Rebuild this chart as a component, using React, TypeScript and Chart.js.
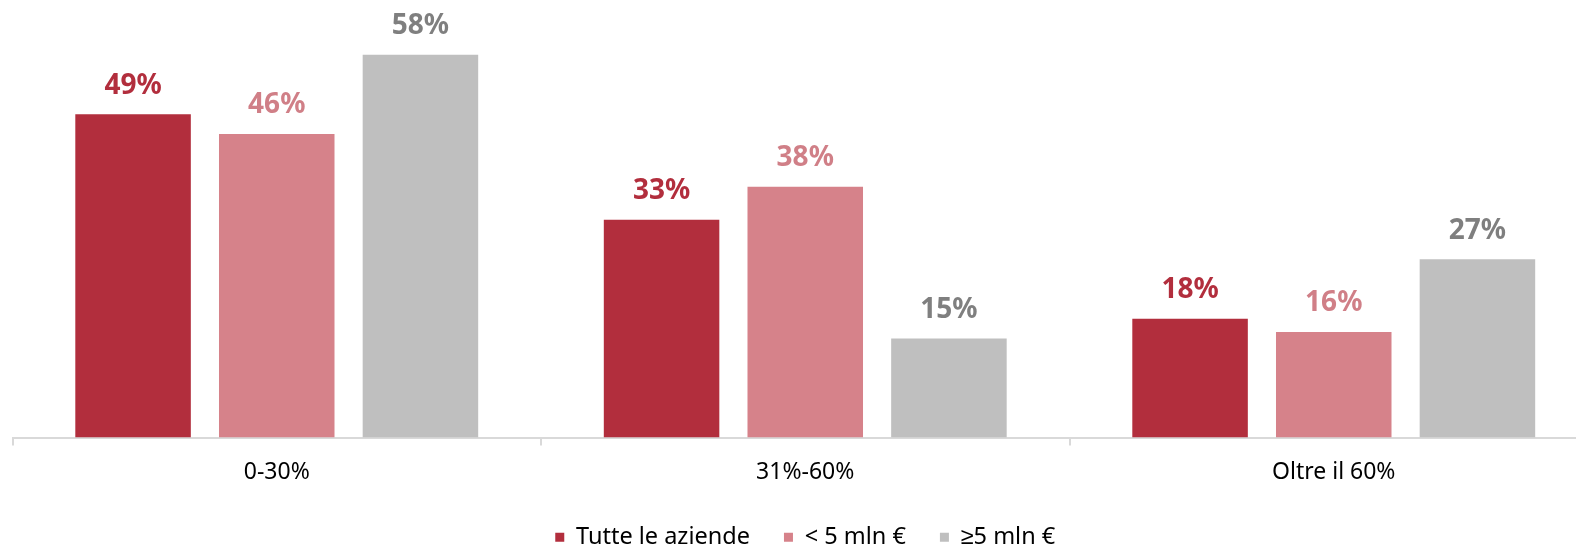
import React, { useEffect, useRef } from "react";
import { Chart, registerables } from "chart.js";

Chart.register(...registerables);

const categories = ["0-30%", "31%-60%", "Oltre il 60%"];
const seriesNames = ["Tutte le aziende", "< 5 mln €", "≥5 mln €"];
const allCompanies = [49, 33, 18];
const under5 = [46, 38, 16];
const over5 = [58, 15, 27];
const barColors = ["#B22E3D", "#D6828A", "#BFBFBF"];
const labelColors = ["#B22E3D", "#D07F87", "#7F7F7F"];

const FONT = "'Noto Sans', 'Liberation Sans', sans-serif";

const valueLabels = {
  id: "valueLabels",
  afterDatasetsDraw(chart: any) {
    const ctx = chart.ctx;
    ctx.save();
    ctx.font = `bold 28px ${FONT}`;
    ctx.textAlign = "center";
    ctx.textBaseline = "alphabetic";
    chart.data.datasets.forEach((ds: any, i: number) => {
      const meta = chart.getDatasetMeta(i);
      meta.data.forEach((el: any, j: number) => {
        ctx.fillStyle = labelColors[i];
        ctx.fillText(ds.data[j] + "%", el.x, el.y - 20.5);
      });
    });
    ctx.restore();
  },
};

export default function App() {
  const ref = useRef<HTMLCanvasElement>(null);
  useEffect(() => {
    if (!ref.current) return;
    const datasets = [allCompanies, under5, over5].map((d, i) => ({
      label: seriesNames[i],
      data: d,
      backgroundColor: barColors[i],
      borderWidth: 0,
      categoryPercentage: 0.8156,
      barPercentage: 0.804,
    }));
    const chart = new Chart(ref.current, {
      type: "bar",
      data: { labels: categories, datasets },
      plugins: [valueLabels],
      options: {
        animation: false,
        responsive: true,
        maintainAspectRatio: false,
        layout: { padding: { left: 12.5, right: 14, top: 0, bottom: -12 } },
        plugins: {
          legend: {
            position: "bottom",
            labels: {
              boxWidth: 9,
              boxHeight: 9,
              color: "#000000",
              padding: 34,
              font: { size: 23.5, family: FONT },
            },
          },
          tooltip: { enabled: false },
        },
        scales: {
          y: { display: false, min: 0, max: 66.3 },
          x: {
            offset: true,
            afterFit(scale: any) {
              scale.height = 54;
            },
            border: { color: "#D9D9D9", width: 2 },
            grid: {
              offset: true,
              drawOnChartArea: false,
              drawTicks: true,
              tickLength: 8,
              color: "#D9D9D9",
              lineWidth: 2,
            },
            ticks: {
              color: "#000000",
              padding: 13,
              font: { size: 23, family: FONT },
            },
          },
        },
      },
    });
    return () => chart.destroy();
  }, []);
  return (
    <div style={{ position: "fixed", left: 0, top: 0, width: 1576, height: 547, overflow: "hidden", background: "#fff" }}>
      <div style={{ position: "absolute", left: 0, top: 0, width: 1612, height: 547 }}>
        <canvas ref={ref} />
      </div>
    </div>
  );
}
